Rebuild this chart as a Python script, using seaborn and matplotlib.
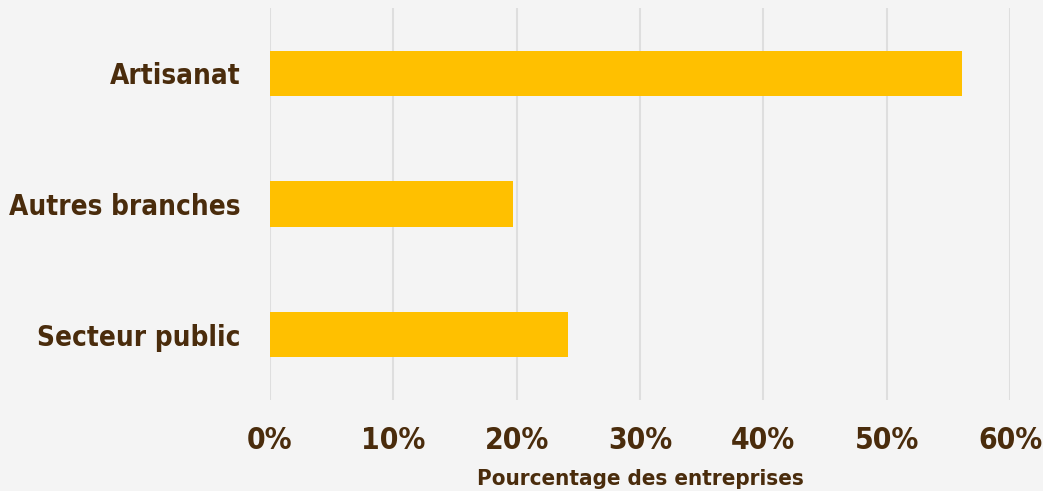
import matplotlib
matplotlib.use("Agg")
import matplotlib.pyplot as plt
import seaborn as sns
import pandas as pd
from matplotlib.ticker import FuncFormatter, MultipleLocator

categories = ["Artisanat", "Autres branches", "Secteur public"]
values = [56.1, 19.7, 24.2]
xlabel = "Pourcentage des entreprises"

df = pd.DataFrame({"cat": categories, "val": values})

sns.set_theme(style="white")
plt.rcParams['font.family'] = ['DejaVu Sans']
plt.rcParams['font.stretch'] = 'condensed'
text_col = "#4a2c0c"
bg = "#f4f4f4"

fig = plt.figure(figsize=(10.43, 4.91), dpi=100, facecolor=bg)
ax = fig.add_axes([270/1043, 1 - 400/491, 740/1043, 392/491])
ax.set_facecolor(bg)
sns.barplot(data=df, y="cat", x="val", color="#FFC000", width=0.346, ax=ax,
            saturation=1, zorder=3, linewidth=0)
ax.set_xlim(0, 60)
ax.set_ylim(2.5, -0.5)
ax.xaxis.set_major_locator(MultipleLocator(10))
ax.xaxis.set_major_formatter(FuncFormatter(lambda v, p: f"{int(v)}%"))
ax.grid(axis="x", color="#dedede", linewidth=1.5, zorder=0)
for s in ax.spines.values():
    s.set_visible(False)
ax.tick_params(axis="both", length=0)
ax.tick_params(axis="x", pad=19, labelsize=21.5, labelcolor=text_col)
ax.tick_params(axis="y", pad=21, labelsize=20, labelcolor=text_col)
for t in ax.get_xticklabels() + ax.get_yticklabels():
    t.set_fontweight("bold")
    t.set_fontstretch("condensed")
ax.set_ylabel("")
ax.set_xlabel(xlabel, fontsize=16, fontweight="bold", color=text_col, labelpad=10,
              fontstretch="condensed")
fig.savefig("out.png", dpi=100, facecolor=bg)
